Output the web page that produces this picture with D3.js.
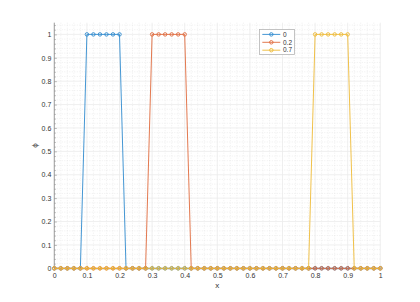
<!DOCTYPE html>
<html>
<head>
<meta charset="utf-8">
<script src="https://cdn.jsdelivr.net/npm/d3@7"></script>
<style>
  html, body { margin: 0; padding: 0; background: #fff; }
  svg { display: block; font-family: "Liberation Sans", "DejaVu Sans", sans-serif; }
</style>
</head>
<body>
<svg id="chart"></svg>
<script>
const xValues = [0, 0.02, 0.04, 0.06, 0.08, 0.1, 0.12, 0.14, 0.16, 0.18,
  0.2, 0.22, 0.24, 0.26, 0.28, 0.3, 0.32, 0.34, 0.36, 0.38,
  0.4, 0.42, 0.44, 0.46, 0.48, 0.5, 0.52, 0.54, 0.56, 0.58,
  0.6, 0.62, 0.64, 0.66, 0.68, 0.7, 0.72, 0.74, 0.76, 0.78,
  0.8, 0.82, 0.84, 0.86, 0.88, 0.9, 0.92, 0.94, 0.96, 0.98, 1];

const phi0 = [0, 0, 0, 0, 0, 1, 1, 1, 1, 1,
  1, 0, 0, 0, 0, 0, 0, 0, 0, 0,
  0, 0, 0, 0, 0, 0, 0, 0, 0, 0,
  0, 0, 0, 0, 0, 0, 0, 0, 0, 0,
  0, 0, 0, 0, 0, 0, 0, 0, 0, 0, 0];
const phi02 = [0, 0, 0, 0, 0, 0, 0, 0, 0, 0,
  0, 0, 0, 0, 0, 1, 1, 1, 1, 1,
  1, 0, 0, 0, 0, 0, 0, 0, 0, 0,
  0, 0, 0, 0, 0, 0, 0, 0, 0, 0,
  0, 0, 0, 0, 0, 0, 0, 0, 0, 0, 0];
const phi07 = [0, 0, 0, 0, 0, 0, 0, 0, 0, 0,
  0, 0, 0, 0, 0, 0, 0, 0, 0, 0,
  0, 0, 0, 0, 0, 0, 0, 0, 0, 0,
  0, 0, 0, 0, 0, 0, 0, 0, 0, 0,
  1, 1, 1, 1, 1, 1, 0, 0, 0, 0, 0];

const seriesNames = ['0', '0.2', '0.7'];
const seriesColors = ['#2f8ace', '#e06a3c', '#eeba35'];

const xTicks = [0, 0.1, 0.2, 0.3, 0.4, 0.5, 0.6, 0.7, 0.8, 0.9, 1];
const xTickLabels = ['0', '0.1', '0.2', '0.3', '0.4', '0.5', '0.6', '0.7', '0.8', '0.9', '1'];
const yTicks = [0, 0.1, 0.2, 0.3, 0.4, 0.5, 0.6, 0.7, 0.8, 0.9, 1];
const yTickLabels = ['0', '0.1', '0.2', '0.3', '0.4', '0.5', '0.6', '0.7', '0.8', '0.9', '1'];
const minorTicks = [0.02, 0.04, 0.06, 0.08, 0.12, 0.14, 0.16, 0.18, 0.22, 0.24, 0.26, 0.28,
  0.32, 0.34, 0.36, 0.38, 0.42, 0.44, 0.46, 0.48, 0.52, 0.54, 0.56, 0.58,
  0.62, 0.64, 0.66, 0.68, 0.72, 0.74, 0.76, 0.78, 0.82, 0.84, 0.86, 0.88,
  0.92, 0.94, 0.96, 0.98, 1.02, 1.04];

const width = 420;
const height = 302;
const plot = {left: 54.3, right: 380.3, top: 22.7, bottom: 268.3};

const xScale = d3.scaleLinear().domain([0, 1]).range([plot.left, plot.right]);
const yScale = d3.scaleLinear().domain([0, 1.05]).range([plot.bottom, plot.top]);

const chart = d3.select('#chart')
  .attr('width', width)
  .attr('height', height);

// grid
const grid = chart.append('g');
grid.selectAll('.minor-x')
  .data(minorTicks.filter(d => d <= 1))
  .enter().append('line')
  .attr('x1', d => xScale(d)).attr('x2', d => xScale(d))
  .attr('y1', plot.top).attr('y2', plot.bottom)
  .attr('stroke', '#e4e4e4').attr('stroke-width', 0.6)
  .attr('stroke-dasharray', '1,1.5');
grid.selectAll('.minor-y')
  .data(minorTicks)
  .enter().append('line')
  .attr('x1', plot.left).attr('x2', plot.right)
  .attr('y1', d => yScale(d)).attr('y2', d => yScale(d))
  .attr('stroke', '#e4e4e4').attr('stroke-width', 0.6)
  .attr('stroke-dasharray', '1,1.5');
grid.selectAll('.major-x')
  .data(xTicks)
  .enter().append('line')
  .attr('x1', d => xScale(d)).attr('x2', d => xScale(d))
  .attr('y1', plot.top).attr('y2', plot.bottom)
  .attr('stroke', '#ebebeb').attr('stroke-width', 0.8);
grid.selectAll('.major-y')
  .data(yTicks)
  .enter().append('line')
  .attr('x1', plot.left).attr('x2', plot.right)
  .attr('y1', d => yScale(d)).attr('y2', d => yScale(d))
  .attr('stroke', '#ebebeb').attr('stroke-width', 0.8);

// axes
const xAxis = chart.append('g')
  .attr('transform', `translate(0, ${plot.bottom})`)
  .call(d3.axisBottom(xScale).tickValues(xTicks)
    .tickFormat((d, i) => xTickLabels[i]).tickSizeInner(-2.5).tickSizeOuter(0).tickPadding(5));
const yAxis = chart.append('g')
  .attr('transform', `translate(${plot.left}, 0)`)
  .call(d3.axisLeft(yScale).tickValues(yTicks)
    .tickFormat((d, i) => yTickLabels[i]).tickSizeInner(-2.5).tickSizeOuter(0).tickPadding(3));

chart.append('g')
  .attr('transform', `translate(0, ${plot.bottom})`)
  .call(d3.axisBottom(xScale).tickValues(minorTicks.filter(d => d < 1))
    .tickFormat('').tickSizeInner(-1.5).tickSizeOuter(0))
  .call(g => g.select('.domain').remove());
chart.append('g')
  .attr('transform', `translate(${plot.left}, 0)`)
  .call(d3.axisLeft(yScale).tickValues(minorTicks)
    .tickFormat('').tickSizeInner(-1.5).tickSizeOuter(0))
  .call(g => g.select('.domain').remove());

chart.selectAll('.domain').attr('stroke', '#8a8a8a').attr('stroke-width', 0.8);
chart.selectAll('.tick line').attr('stroke', '#8a8a8a').attr('stroke-width', 0.6);
chart.selectAll('.tick text').attr('fill', '#333').attr('font-size', 7);
yAxis.select('.domain').attr('d', `M0,${plot.bottom}V${yScale(1.05)}`);

// labels
chart.append('text')
  .attr('x', xScale(0.5)).attr('y', 288)
  .attr('text-anchor', 'middle')
  .attr('font-size', 8).attr('fill', '#333')
  .text('x');
chart.append('text')
  .attr('transform', `translate(37, ${yScale(0.525)}) rotate(-90)`)
  .attr('text-anchor', 'middle')
  .attr('font-size', 8).attr('fill', '#333')
  .text('ϕ');

// series
const seriesData = [phi0, phi02, phi07];
const line = d3.line()
  .x((d, i) => xScale(xValues[i]))
  .y(d => yScale(d));

seriesData.forEach((values, k) => {
  const g = chart.append('g');
  g.append('path')
    .attr('d', line(values))
    .attr('fill', 'none')
    .attr('stroke', seriesColors[k])
    .attr('stroke-width', 0.9);
  g.selectAll('circle')
    .data(values)
    .enter().append('circle')
    .attr('cx', (d, i) => xScale(xValues[i]))
    .attr('cy', d => yScale(d))
    .attr('r', 1.75)
    .attr('fill', 'none')
    .attr('stroke', seriesColors[k])
    .attr('stroke-width', 0.9);
});

// legend
const legend = chart.append('g');
legend.append('rect')
  .attr('x', 259.5).attr('y', 29.5)
  .attr('width', 35).attr('height', 25)
  .attr('fill', '#fff').attr('stroke', '#b5b5b5').attr('stroke-width', 0.8);
seriesNames.forEach((name, k) => {
  const y = 34.4 + k * 7.9;
  legend.append('line')
    .attr('x1', 262.3).attr('x2', 280.3).attr('y1', y).attr('y2', y)
    .attr('stroke', seriesColors[k]).attr('stroke-width', 0.9);
  legend.append('circle')
    .attr('cx', 271.3).attr('cy', y).attr('r', 1.75)
    .attr('fill', 'none').attr('stroke', seriesColors[k]).attr('stroke-width', 0.9);
  legend.append('text')
    .attr('x', 283).attr('y', y).attr('dy', '0.35em')
    .attr('font-size', 6.5).attr('fill', '#333')
    .text(name);
});
</script>
</body>
</html>
